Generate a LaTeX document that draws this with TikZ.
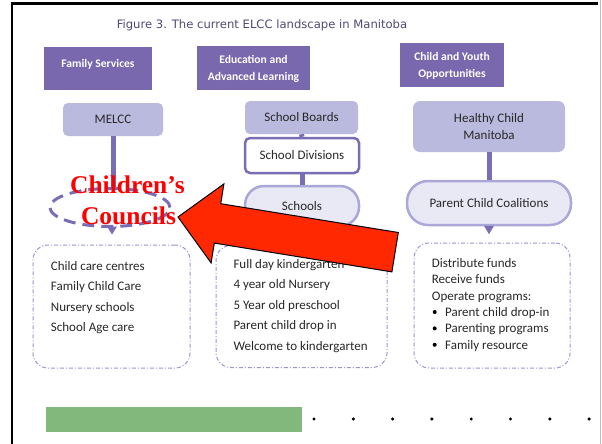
\documentclass[tikz,border=0pt]{standalone}
\usepackage{fontspec}
\setmainfont{Carlito}
\newfontfamily\titlefont{DejaVu Sans}
\newfontfamily\redfont{Liberation Serif}
\usetikzlibrary{shapes.geometric}
\definecolor{hdrpurple}{RGB}{121,104,174}
\definecolor{lavfill}{RGB}{186,185,222}
\definecolor{pillfill}{RGB}{233,232,245}
\definecolor{pillborder}{RGB}{170,168,216}
\definecolor{connpurple}{RGB}{123,109,181}
\definecolor{dashpurple}{RGB}{157,148,212}
\definecolor{textdark}{RGB}{40,40,40}
\definecolor{titlecol}{RGB}{78,74,118}
\definecolor{arrowred}{RGB}{255,40,0}
\definecolor{greenbar}{RGB}{130,184,124}
\begin{document}
\begin{tikzpicture}[x=1pt,y=-1pt,
  hdrbox/.style={fill=hdrpurple, inner sep=0, minimum width=#1},
  hdrtext/.style={text=white, font=\bfseries\fontsize{11.6}{17}\selectfont, align=center, inner sep=0},
  lavbox/.style={fill=lavfill, rounded corners=5, inner sep=0, text=textdark,
    font=\fontsize{13}{17}\selectfont, align=center},
  pillbox/.style={fill=pillfill, draw=pillborder, line width=2.5, rounded corners=19,
    inner sep=0, text=textdark, font=\fontsize{13}{17}\selectfont},
  divbox/.style={fill=white, draw=connpurple, line width=2.5, rounded corners=5,
    inner sep=0, text=textdark, font=\fontsize{13}{17}\selectfont},
  conn/.style={draw=connpurple, line width=5},
  listbox/.style={draw=dashpurple, line width=1, rounded corners=15, inner sep=0,
    dash pattern=on 4pt off 2pt on 1pt off 2pt},
  item/.style={text=textdark, font=\fontsize{13}{16}\selectfont, inner sep=0, anchor=base west},
  redtext/.style={text=red, font=\redfont\bfseries\fontsize{25.5}{30}\selectfont, inner sep=0, anchor=base}
]
\useasboundingbox (0,0) rectangle (602,444);
\fill[white] (0,0) rectangle (602,444);
% frame
\draw[black, line width=2.7] (12,444) -- (12,3.3) -- (598,3.3);
\draw[gray!50, line width=1] (600,0) -- (600,444);

% title
\node[text=titlecol, font=\titlefont\fontsize{11.6}{14}\selectfont, inner sep=0, anchor=base] (title) at (262,29) {Figure 3. The current ELCC landscape in Manitoba};

% headers
\node[hdrbox=108, minimum height=43] (h1) at (98,68.5) {};
\node[hdrtext] (h1t) at (98,64) {Family Services};
\node[hdrbox=113, minimum height=44] (h2) at (253.5,68) {};
\node[hdrtext] (h2t) at (253.5,69) {Education and\\Advanced Learning};
\node[hdrbox=104, minimum height=44] (h3) at (452,65) {};
\node[hdrtext] (h3t) at (452,66) {Child and Youth\\Opportunities};

% second row
\node[lavbox, minimum width=100, minimum height=33] (melcc) at (113,119.5) {MELCC};
\node[lavbox, minimum width=113, minimum height=33] (sb) at (301.5,117.5) {School Boards};
\node[divbox, minimum width=114, minimum height=35] (sd) at (302,155.5) {School Divisions};
\node[pillbox, minimum width=114, minimum height=40] (sch) at (302,206) {Schools};
\node[lavbox, minimum width=152, minimum height=51, rounded corners=7] (hc) at (489,126.5) {Healthy Child\\Manitoba};
\node[pillbox, minimum width=164, minimum height=44, rounded corners=21] (pcc) at (489,203) {Parent Child Coalitions};

% dashed ellipse
\node[ellipse, draw=connpurple, line width=3, dash pattern=on 12pt off 7pt,
  minimum width=120, minimum height=38, inner sep=0] (cc) at (110,207.5) {};

% connectors
\draw[conn] (melcc.south) -- (melcc.south |- cc.north);
\draw[conn] (sb.south) -- (sd.north);
\draw[conn] (sd.south) -- (sch.north);
\draw[conn] (hc.south) -- (pcc.north);
\coordinate (t1) at (112,226.5);
\fill[connpurple] (t1) ++(-5,0) -- ++(10,0) -- ++(-5,8) -- cycle;
\coordinate (t3) at (pcc.south);
\fill[connpurple] (t3) ++(-5,-0.5) -- ++(10,0) -- ++(-5,8.5) -- cycle;

% list boxes
\node[listbox, minimum width=157, minimum height=123] (b1) at (111.5,306.5) {};
\node[listbox, minimum width=171, minimum height=122] (b2) at (301.5,306.5) {};
\node[listbox, minimum width=156, minimum height=125] (b3) at (492,305.5) {};

\foreach \t [count=\i] in {Child care centres, Family Child Care, Nursery schools, School Age care}
  \node[item] (ba\i) at (50.7,{270.5+20.4*(\i-1)}) {\t};
\foreach \t [count=\i] in {Full day kindergarten, 4 year old Nursery, 5 Year old preschool, Parent child drop in, Welcome to kindergarten}
  \node[item] (bb\i) at (233.3,{268.2+20.5*(\i-1)}) {\t};
\foreach \t [count=\i] in {Distribute funds, Receive funds, Operate programs:}
  \node[item] (bc\i) at (431.7,{267.3+16.4*(\i-1)}) {\t};
\foreach \t [count=\i] in {Parent child drop-in, Parenting programs, Family resource}{
  \node[item] (bd\i) at (445,{316.5+16.4*(\i-1)}) {\t};
  \fill[black] (434.7,{312+16.4*(\i-1)}) circle (2);
}

% red text
\node[redtext] (cr1) at (127.5,193) {Children’s};
\node[redtext] (cr2) at (128.5,224) {Councils};

% big red arrow
\draw[fill=arrowred, draw=black, line width=1, line join=miter]
  (178,217) -- (223.9,183.9) -- (220.7,203.7) -- (398.3,232.5) -- (391.9,271.9)
  -- (214.3,243.1) -- (211.1,262.9) -- cycle;

% bottom bar and dots
\fill[greenbar] (46,407) rectangle (302,432);
\foreach \i in {0,...,7}
  \fill[black] ({314+39.3*\i},419) circle (1.7);
\end{tikzpicture}
\end{document}
